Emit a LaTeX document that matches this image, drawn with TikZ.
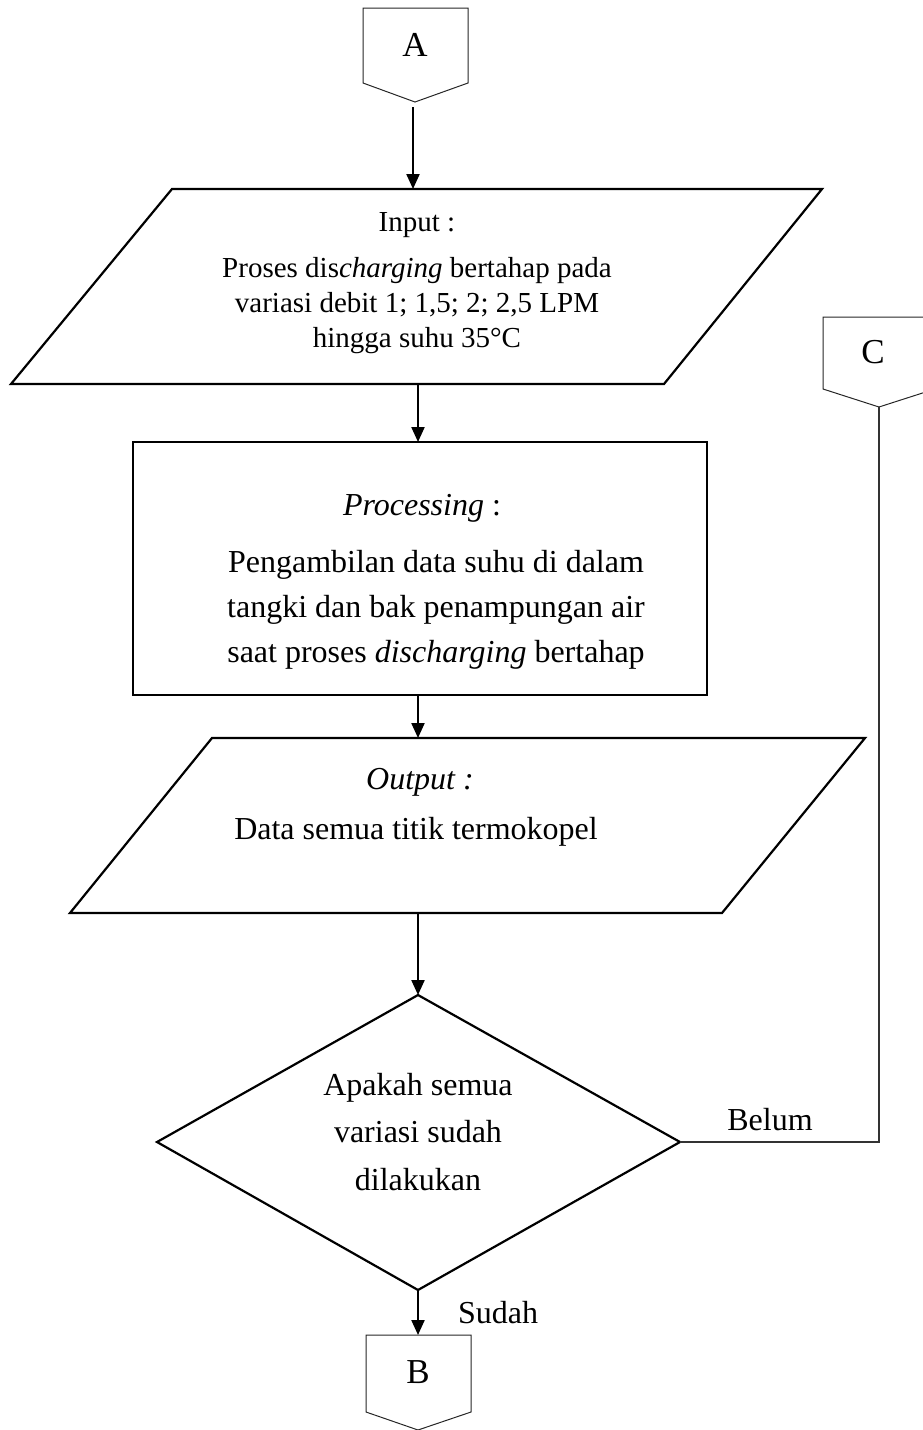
\documentclass[tikz,border=0pt]{standalone}
\usepackage{fontspec}
\setmainfont{Liberation Serif}
\usetikzlibrary{arrows.meta}
\begin{document}
\begin{tikzpicture}[x=1pt,y=-1pt,
  box/.style={line width=2.2pt, line join=miter},
  conn/.style={line width=1pt, draw=black!85},
  flow/.style={line width=2.2pt, -{Triangle[length=15pt,width=13pt]}},
  plain/.style={line width=1.4pt, draw=black!80},
  body/.style={font=\fontsize{32}{45}\selectfont, align=center, inner sep=0pt},
  small/.style={font=\fontsize{29}{35}\selectfont, align=center, inner sep=0pt},
  letter/.style={font=\fontsize{35}{40}\selectfont, inner sep=0pt},
  lab/.style={font=\fontsize{32}{38}\selectfont, inner sep=0pt}]
\useasboundingbox (0,0) rectangle (922,1430);

% connector A
\draw[conn] (363,8) -- (468,8) -- (468,83) -- (415,102) -- (363,83) -- cycle;
\node[letter] (A) at (415,45) {A};
\coordinate (Aout) at (413,107);

% input
\draw[box] (172,189) -- (822,189) -- (664,384) -- (11,384) -- cycle;
\coordinate (inT) at (413,189);
\coordinate (inB) at (418,384);
\node[small] (intext) at (417,283) {Input :\\[11pt]
  Proses dis\textit{charging} bertahap pada\\
  variasi debit 1; 1,5; 2; 2,5 LPM\\
  hingga suhu 35°C};

% processing
\draw[box] (133,442) rectangle (707,695);
\coordinate (prT) at (418,442);
\coordinate (prB) at (418,695);
\node[body] (prtitle) at (422,508) {\textit{Processing} :};
\node[body] (prtext) at (436,610) {Pengambilan data suhu di dalam\\
  tangki dan bak penampungan air\\
  saat proses \textit{discharging} bertahap};

% output
\draw[box] (212,738) -- (865,738) -- (722,913) -- (70,913) -- cycle;
\coordinate (ouT) at (418,738);
\coordinate (ouB) at (418,913);
\node[body] (outitle) at (420,782) {\textit{Output :}};
\node[body] (outext) at (416,832) {Data semua titik termokopel};

% decision
\draw[box] (418,995) -- (680,1142) -- (418,1290) -- (157,1142) -- cycle;
\coordinate (dT) at (418,995);
\coordinate (dR) at (680,1142);
\coordinate (dB) at (418,1290);
\node[body, font=\fontsize{32}{47.5}\selectfont] (dtext) at (418,1132) {Apakah semua\\
  variasi sudah\\ dilakukan};

% connector C
\draw[conn] (823,317) -- (935,317) -- (935,389) -- (879,407) -- (823,389) -- cycle;
\node[letter] (C) at (873,352) {C};
\coordinate (Cin) at (879,407);

% connector B
\draw[conn] (366,1335) -- (471,1335) -- (471,1412) -- (418,1430) -- (366,1412) -- cycle;
\node[letter] (B) at (418,1372) {B};
\coordinate (Bin) at (418,1335);

% flows
\draw[flow] (Aout) -- (inT);
\draw[flow] (inB) -- (prT);
\draw[flow] (prB) -- (ouT);
\draw[flow] (ouB) -- (dT);
\draw[flow] (dB) -- (Bin);
\draw[plain] (dR) -| (Cin);

\node[lab] (belum) at (770,1120) {Belum};
\node[lab] (sudah) at (498,1313) {Sudah};
\end{tikzpicture}
\end{document}
